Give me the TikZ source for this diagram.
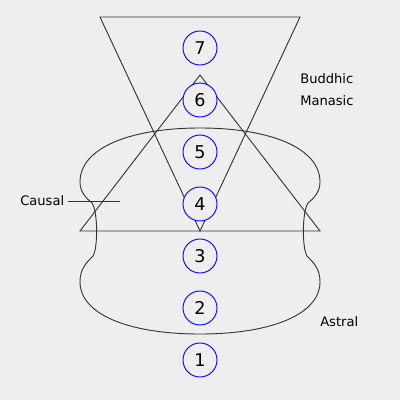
\documentclass[tikz,border=0pt]{standalone}
\usepackage{fontspec}
\setmainfont{DejaVu Sans}
\usepackage{tikz}
\usetikzlibrary{positioning,calc}
\usepackage{xcolor}
\definecolor{bgray}{HTML}{EEEEEE}
\definecolor{lgray}{HTML}{333333}

\begin{document}
\begin{tikzpicture}[x=0.025cm,y=-0.025cm,
    shape line/.style={draw=lgray,line width=0.65pt},
    chakra/.style={circle,draw=blue,line width=0.65pt,minimum size=34*0.025cm,inner sep=0pt,font=\fontsize{12.5}{14}\selectfont},
    plane/.style={inner sep=0pt,anchor=west,font=\fontsize{9.3}{10}\selectfont}]
\fill[bgray] (0,0) rectangle (400,400);
\useasboundingbox (0,0) rectangle (400,400);
% triangles
\draw[shape line] (100,17) -- (300,17) -- (200,231) -- cycle;
\draw[shape line] (80,231) -- (320,231) -- (200,75) -- cycle;
% body outline
\draw[shape line] (200,128) .. controls (130,128) and (80,148) .. (80,182)
  .. controls (80,192) and (86,198) .. (92,203)
  .. controls (98,212) and (98,248) .. (93,256)
  .. controls (85,264) and (80,270) .. (80,282)
  .. controls (80,314) and (128,334) .. (200,334)
  .. controls (272,334) and (320,314) .. (320,282)
  .. controls (320,270) and (315,264) .. (307,256)
  .. controls (302,248) and (302,212) .. (308,203)
  .. controls (314,198) and (320,192) .. (320,182)
  .. controls (320,148) and (270,128) .. (200,128) -- cycle;
% chakras
\foreach \n in {1,...,7}
  \node[chakra,fill=bgray] (c\n) at (200,{360-52*(\n-1)}) {\n};
% labels
\node[plane] (buddhic) at (300,79) {Buddhic};
\node[plane] (manasic) at (300,101) {Manasic};
\node[plane] (causal) at (20,201) {Causal};
\node[plane] (astral) at (320,322) {Astral};
\coordinate (causalend) at (120,201);
\draw[shape line] ([xshift=4*0.025cm]causal.east) -- (causalend);
\end{tikzpicture}
\end{document}
